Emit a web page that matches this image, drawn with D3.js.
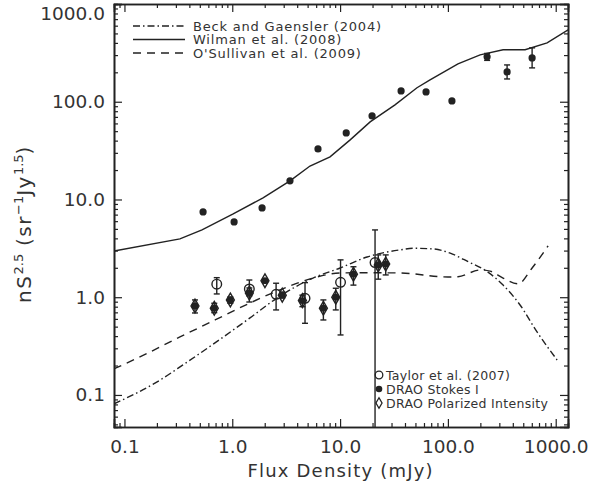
<!DOCTYPE html>
<html lang="en">
<head>
<meta charset="UTF-8">
<title>Source counts</title>
<script src="https://d3js.org/d3.v7.min.js"></script>
<style>
    body { margin: 0; background: #fff; }
    text { font-family: "DejaVu Sans", sans-serif; fill: #333; }
</style>
</head>
<body>
<div id="chart"></div>
<script>
    // model curves
    const wilmanS = [0.08, 0.327, 0.524, 1.02, 1.93, 3.43, 5.26, 8.07, 12.4, 19.0, 32.3, 51.7, 68.3, 124, 199, 325, 520, 832, 1303];
    const wilmanN = [2.97, 3.95, 4.88, 7.11, 10.4, 15.5, 22.0, 27.3, 40.7, 62.2, 92.9, 139, 167, 244, 302, 340, 340, 400, 544];

    const beckS = [0.08, 0.214, 0.349, 0.718, 1.46, 2.60, 5.61, 10, 17.8, 36, 47.5, 72.8, 105, 154, 231, 325, 467, 671, 1030];
    const beckN = [0.081, 0.142, 0.203, 0.351, 0.614, 0.98, 1.57, 1.99, 2.58, 3.05, 3.17, 3.12, 2.82, 2.31, 1.83, 1.33, 0.833, 0.441, 0.228];

    const osullS = [0.08, 0.139, 0.327, 0.692, 1.46, 2.77, 5.61, 10, 17.8, 36, 100, 124, 199, 246, 325, 448, 604, 849];
    const osullN = [0.185, 0.245, 0.392, 0.585, 0.873, 1.19, 1.57, 1.77, 1.78, 1.77, 1.61, 1.62, 1.90, 1.85, 1.57, 1.37, 1.99, 3.35];

    // DRAO Stokes I
    const stokesS = [0.536, 1.04, 1.89, 3.43, 6.24, 11.4, 19.8, 36.8, 62.7, 109, 231, 354, 604];
    const stokesN = [7.46, 5.89, 8.19, 15.5, 32.9, 48.0, 71.6, 129, 126, 102, 288, 202, 281];
    const stokesLo = [null, null, null, null, null, null, null, null, null, null, 265, 171, 222];
    const stokesHi = [null, null, null, null, null, null, null, null, null, null, 312, 238, 356];

    // DRAO polarized intensity
    const polS = [0.451, 0.681, 0.96, 1.44, 2.01, 2.91, 4.47, 7.0, 9.12, 13.3, 22.6, 26.5];
    const polN = [0.813, 0.771, 0.938, 1.106, 1.476, 1.05, 0.923, 0.771, 1.0, 1.72, 2.14, 2.19];
    const polLo = [0.690, 0.695, 0.867, 0.893, 1.42, 0.98, 0.80, 0.585, 0.741, 1.33, 1.53, 1.69];
    const polHi = [0.938, 0.867, 1.006, 1.244, 1.53, 1.13, 1.05, 0.938, 1.235, 2.05, 2.71, 2.71];

    // Taylor et al. (2007)
    const taylorS = [0.718, 1.44, 2.55, 4.73, 10.1, 21.1];
    const taylorN = [1.36, 1.214, 1.07, 0.975, 1.42, 2.26];
    const taylorLo = [1.08, 1.03, 0.741, 0.541, 0.411, 0.001];
    const taylorHi = [1.585, 1.50, 1.39, 1.41, 2.41, 4.88];

    const xMajor = [0.1, 1, 10, 100, 1000];
    const xLabels = ["0.1", "1.0", "10.0", "100.0", "1000.0"];
    const yMajor = [0.1, 1, 10, 100, 1000];
    const yLabels = ["0.1", "1.0", "10.0", "100.0", "1000.0"];

    const width = 591;
    const height = 489;
    const pLeft = 114, pRight = 568, pTop = 4, pBottom = 427;

    const xScale = d3.scaleLog().domain([0.08, 1300]).range([pLeft, pRight]);
    const yScale = d3.scaleLog().domain([0.047, 1000]).range([pBottom, pTop]);

    const svg = d3.select("#chart")
        .append("svg")
        .attr("width", width)
        .attr("height", height);

    svg.append("clipPath").attr("id", "plot")
        .append("rect")
        .attr("x", pLeft).attr("y", pTop)
        .attr("width", pRight - pLeft).attr("height", pBottom - pTop);

    // minor ticks 2..9 per decade
    function minors(scale) {
        const [a, b] = scale.domain();
        const out = [];
        for (let e = -3; e <= 3; e++) {
            for (let m = 2; m <= 9; m++) {
                const v = m * Math.pow(10, e);
                if (v > a * 1.01 && v < b * 0.99) out.push(v);
            }
        }
        return out;
    }

    const ink = "#222";

    // axes (ticks point inward on all four sides)
    svg.append("g").attr("transform", `translate(0,${pBottom})`)
        .call(d3.axisBottom(xScale).tickValues(xMajor).tickSize(-8).tickPadding(13)
            .tickFormat((d, i) => xLabels[i]));
    svg.append("g").attr("transform", `translate(0,${pBottom})`)
        .call(d3.axisBottom(xScale).tickValues(minors(xScale)).tickSize(-4).tickFormat(""));
    svg.append("g").attr("transform", `translate(0,${pTop})`)
        .call(d3.axisTop(xScale).tickValues(xMajor).tickSize(-8).tickFormat(""));
    svg.append("g").attr("transform", `translate(0,${pTop})`)
        .call(d3.axisTop(xScale).tickValues(minors(xScale)).tickSize(-4).tickFormat(""));

    const axY = svg.append("g").attr("transform", `translate(${pLeft},0)`)
        .call(d3.axisLeft(yScale).tickValues(yMajor).tickSize(-8).tickPadding(9)
            .tickFormat((d, i) => yLabels[i]));
    svg.append("g").attr("transform", `translate(${pLeft},0)`)
        .call(d3.axisLeft(yScale).tickValues(minors(yScale)).tickSize(-4).tickFormat(""));
    svg.append("g").attr("transform", `translate(${pRight},0)`)
        .call(d3.axisRight(yScale).tickValues(yMajor).tickSize(-8).tickFormat(""));
    svg.append("g").attr("transform", `translate(${pRight},0)`)
        .call(d3.axisRight(yScale).tickValues(minors(yScale)).tickSize(-4).tickFormat(""));

    svg.selectAll(".domain").attr("stroke", ink).attr("stroke-width", 1.6);
    svg.selectAll(".tick line").attr("stroke", ink).attr("stroke-width", 1.2);
    svg.selectAll(".tick text").style("font-size", "18.5px").attr("fill", "#333");
    // top label sits a little lower in the original
    axY.selectAll(".tick text").filter(d => d === 1000).attr("dy", "0.85em");

    // titles
    svg.append("text")
        .attr("x", 340).attr("y", 477)
        .attr("text-anchor", "middle")
        .attr("textLength", 185)
        .attr("lengthAdjust", "spacing")
        .style("font-size", "18px")
        .text("Flux Density (mJy)");

    const yt = svg.append("text")
        .attr("transform", "translate(31,224) rotate(-90)")
        .attr("text-anchor", "middle")
        .style("font-size", "20px")
        .style("letter-spacing", "1.5px");
    yt.append("tspan").text("nS");
    yt.append("tspan").attr("dy", -8).style("font-size", "13px").style("letter-spacing", "0px").text("2.5");
    yt.append("tspan").attr("dy", 8).text(" (sr");
    yt.append("tspan").attr("dy", -8).style("font-size", "13px").style("letter-spacing", "0px").text("\u22121");
    yt.append("tspan").attr("dy", 8).text("Jy");
    yt.append("tspan").attr("dy", -8).style("font-size", "13px").style("letter-spacing", "0px").text("1.5");
    yt.append("tspan").attr("dy", 8).text(")");

    // curves
    const plot = svg.append("g").attr("clip-path", "url(#plot)");

    function curve(xs, ys, dash, smooth) {
        const pts = xs.map((s, i) => [s, ys[i]]);
        plot.append("path")
            .datum(pts)
            .attr("fill", "none")
            .attr("stroke", ink)
            .attr("stroke-width", 1.4)
            .attr("stroke-dasharray", dash)
            .attr("d", d3.line()
                .x(d => xScale(d[0]))
                .y(d => yScale(d[1]))
                .curve(smooth ? d3.curveMonotoneX : d3.curveLinear));
    }

    const dashDot = "7,3,1.5,3";
    const dashed = "8,6";
    curve(wilmanS, wilmanN, null, false);
    curve(beckS, beckN, dashDot, true);
    curve(osullS, osullN, dashed, true);

    // error bars
    function errors(xs, lo, hi) {
        xs.forEach((s, i) => {
            if (lo[i] == null) return;
            const x = xScale(s);
            const y0 = yScale(lo[i]);
            const y1 = yScale(hi[i]);
            plot.append("line").attr("x1", x).attr("x2", x).attr("y1", y0).attr("y2", y1)
                .attr("stroke", ink).attr("stroke-width", 1.4);
            [y0, y1].forEach(y => {
                plot.append("line").attr("x1", x - 3).attr("x2", x + 3).attr("y1", y).attr("y2", y)
                    .attr("stroke", ink).attr("stroke-width", 1.4);
            });
        });
    }

    errors(stokesS, stokesLo, stokesHi);
    errors(polS, polLo, polHi);
    errors(taylorS, taylorLo, taylorHi);

    const diamond = d3.symbol().type(d3.symbolDiamond).size(55);

    plot.selectAll(".stokes")
        .data(stokesS)
        .enter().append("circle")
        .attr("cx", d => xScale(d))
        .attr("cy", (d, i) => yScale(stokesN[i]))
        .attr("r", 3.6)
        .attr("fill", ink);

    plot.selectAll(".pol-dot")
        .data(polS)
        .enter().append("circle")
        .attr("cx", d => xScale(d))
        .attr("cy", (d, i) => yScale(polN[i]))
        .attr("r", 3.4)
        .attr("fill", ink);

    plot.selectAll(".pol")
        .data(polS)
        .enter().append("path")
        .attr("d", diamond)
        .attr("transform", (d, i) => `translate(${xScale(d)},${yScale(polN[i])})`)
        .attr("fill", "none")
        .attr("stroke", ink)
        .attr("stroke-width", 1.4);

    plot.selectAll(".taylor")
        .data(taylorS)
        .enter().append("circle")
        .attr("cx", d => xScale(d))
        .attr("cy", (d, i) => yScale(taylorN[i]))
        .attr("r", 4.8)
        .attr("fill", "none")
        .attr("stroke", ink)
        .attr("stroke-width", 1.4);

    // legend, top left
    const lineKeys = [
        { name: "Beck and Gaensler (2004)", dash: dashDot },
        { name: "Wilman et al. (2008)", dash: null },
        { name: "O'Sullivan et al. (2009)", dash: dashed }
    ];
    lineKeys.forEach((k, i) => {
        const y = 26 + i * 13.5;
        svg.append("line").attr("x1", 133).attr("x2", 185).attr("y1", y).attr("y2", y)
            .attr("stroke", ink).attr("stroke-width", 1.4).attr("stroke-dasharray", k.dash);
        svg.append("text").attr("x", 193).attr("y", y + 4.5)
            .style("font-size", "13px").style("letter-spacing", "0.8px").text(k.name);
    });

    // legend, bottom right
    const mx = 379;
    svg.append("circle").attr("cx", mx).attr("cy", 375).attr("r", 3.8)
        .attr("fill", "none").attr("stroke", ink).attr("stroke-width", 1.3);
    svg.append("circle").attr("cx", mx).attr("cy", 389).attr("r", 3.3).attr("fill", ink);
    svg.append("path").attr("d", d3.symbol().type(d3.symbolDiamond).size(32))
        .attr("transform", `translate(${mx},403)`)
        .attr("fill", "none").attr("stroke", ink).attr("stroke-width", 1.3);
    ["Taylor et al. (2007)", "DRAO Stokes I", "DRAO Polarized Intensity"].forEach((t, i) => {
        svg.append("text").attr("x", 386).attr("y", 380 + i * 14)
            .style("font-size", "12.5px").style("letter-spacing", "0.3px").text(t);
    });
</script>
</body>
</html>
